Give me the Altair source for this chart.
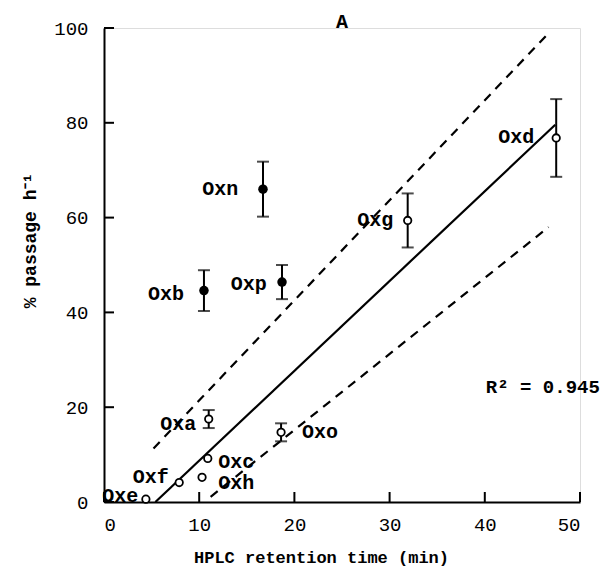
import altair as alt
import pandas as pd

# ---- data ----
names = ["Oxe", "Oxf", "Oxh", "Oxc", "Oxa", "Oxo", "Oxb", "Oxp", "Oxn", "Oxg", "Oxd"]
rt = [4.4, 7.9, 10.3, 10.9, 11.0, 18.6, 10.5, 18.7, 16.7, 31.9, 47.5]
passage = [0.6, 4.1, 5.2, 9.2, 17.5, 14.7, 44.6, 46.4, 66.0, 59.4, 76.8]
err = [0, 0, 0, 0, 1.9, 1.9, 4.3, 3.6, 5.8, 5.7, 8.2]
filled = [False, False, False, False, False, False, True, True, True, False, False]
label_x = [1.7, 4.9, 13.9, 13.9, 7.8, 22.7, 6.5, 15.2, 12.2, 28.5, 43.3]
label_y = [1.3, 5.3, 4.0, 8.5, 16.4, 14.7, 43.8, 45.9, 66.1, 59.4, 77.1]

fit_x = [5.4, 47.4]
fit_y = [0.0, 79.6]
upper_x = [5.2, 46.6]
upper_y = [11.3, 98.7]
lower_x = [11.2, 46.7]
lower_y = [1.1, 58.0]

x_ticks = [0, 10, 20, 30, 40, 50]
y_ticks = [0, 20, 40, 60, 80, 100]

FONT = "Liberation Mono"
W, H = 476, 474

pts = pd.DataFrame({"name": names, "rt": rt, "p": passage, "err": err,
                    "filled": filled, "lx": label_x, "ly": label_y})
pts["lo"] = pts["p"] - pts["err"]
pts["hi"] = pts["p"] + pts["err"]
ebars = pts[pts["err"] > 0]

xs = alt.Scale(domain=[0, 50], nice=False, zero=False)
ys = alt.Scale(domain=[0, 100], nice=False, zero=False)

x_axis = alt.Axis(values=x_ticks, tickSize=0, labelPadding=13, labelFont=FONT,
                  labelFontSize=19, labelColor="black", domainColor="black",
                  domainWidth=2, grid=False, title="HPLC retention time (min)",
                  titleFont=FONT, titleFontSize=17, titleFontWeight="bold",
                  titlePadding=15, titleColor="black", titleX=217)
y_axis = alt.Axis(values=y_ticks, tickSize=0, labelPadding=16, labelFont=FONT,
                  labelFontSize=19, labelColor="black", domainColor="black",
                  domainWidth=2, grid=False, title="% passage h⁻¹",
                  titleFont=FONT, titleFontSize=18, titleFontWeight="bold",
                  titlePadding=14, titleColor="black", titleY=212)

base = alt.Chart(pts)

axes = alt.Chart(pd.DataFrame({"rt": [0.0], "p": [0.0]})).mark_point(opacity=0).encode(
    x=alt.X("rt:Q", scale=xs, axis=x_axis),
    y=alt.Y("p:Q", scale=ys, axis=y_axis),
)

xt = alt.Chart(pd.DataFrame({"t": x_ticks})).mark_rule(color="black", strokeWidth=2).encode(
    x=alt.X("t:Q", scale=xs), y=alt.value(H), y2=alt.value(H - 10))
yt = alt.Chart(pd.DataFrame({"t": y_ticks})).mark_rule(color="black", strokeWidth=2).encode(
    y=alt.Y("t:Q", scale=ys), x=alt.value(0), x2=alt.value(10))

def seg(xv, yv, dash=None):
    df = pd.DataFrame({"rt": xv, "p": yv})
    kw = {"color": "black", "strokeWidth": 2.2}
    if dash:
        kw["strokeDash"] = dash
    return alt.Chart(df).mark_line(**kw).encode(
        x=alt.X("rt:Q", scale=xs), y=alt.Y("p:Q", scale=ys))

fit = seg(fit_x, fit_y)
up = seg(upper_x, upper_y, [9, 7])
lo = seg(lower_x, lower_y, [9, 7])

bars = alt.Chart(ebars).mark_rule(color="black", strokeWidth=2).encode(
    x=alt.X("rt:Q", scale=xs), y=alt.Y("lo:Q", scale=ys), y2="hi:Q")
cap_lo = alt.Chart(ebars).mark_tick(color="black", orient="horizontal", size=12, thickness=2).encode(
    x=alt.X("rt:Q", scale=xs), y=alt.Y("lo:Q", scale=ys))
cap_hi = alt.Chart(ebars).mark_tick(color="black", orient="horizontal", size=12, thickness=2).encode(
    x=alt.X("rt:Q", scale=xs), y=alt.Y("hi:Q", scale=ys))

open_pts = base.transform_filter("!datum.filled").mark_point(
    shape="circle", filled=True, fill="white", stroke="black", strokeWidth=1.8,
    size=55, opacity=1).encode(x=alt.X("rt:Q", scale=xs), y=alt.Y("p:Q", scale=ys))
full_pts = base.transform_filter("datum.filled").mark_point(
    shape="circle", filled=True, color="black", size=90, opacity=1).encode(
    x=alt.X("rt:Q", scale=xs), y=alt.Y("p:Q", scale=ys))

labels = base.mark_text(font=FONT, fontSize=20, fontWeight="bold", color="black").encode(
    x=alt.X("lx:Q", scale=xs), y=alt.Y("ly:Q", scale=ys), text="name:N")

r2 = alt.Chart(pd.DataFrame({"x": [46.1], "y": [24.2], "t": ["R² = 0.945"]})).mark_text(
    font=FONT, fontSize=19, fontWeight="bold", color="black").encode(
    x=alt.X("x:Q", scale=xs), y=alt.Y("y:Q", scale=ys), text="t:N")

title = alt.Chart(pd.DataFrame({"x": [25], "t": ["A"]})).mark_text(
    font=FONT, fontSize=20, fontWeight="bold", color="black").encode(
    x=alt.X("x:Q", scale=xs), y=alt.value(-6), text="t:N")

chart = alt.layer(axes, up, lo, fit, bars, cap_lo, cap_hi, open_pts, full_pts,
                  labels, r2, title, xt, yt).properties(
    width=W, height=H,
    autosize=alt.AutoSizeParams(type="none"),
    padding={"left": 104, "top": 28, "right": 25, "bottom": 67},
).configure_view(stroke=None).configure(background="white")

chart.save("out.html", embed_options={"renderer": "svg", "actions": False})
